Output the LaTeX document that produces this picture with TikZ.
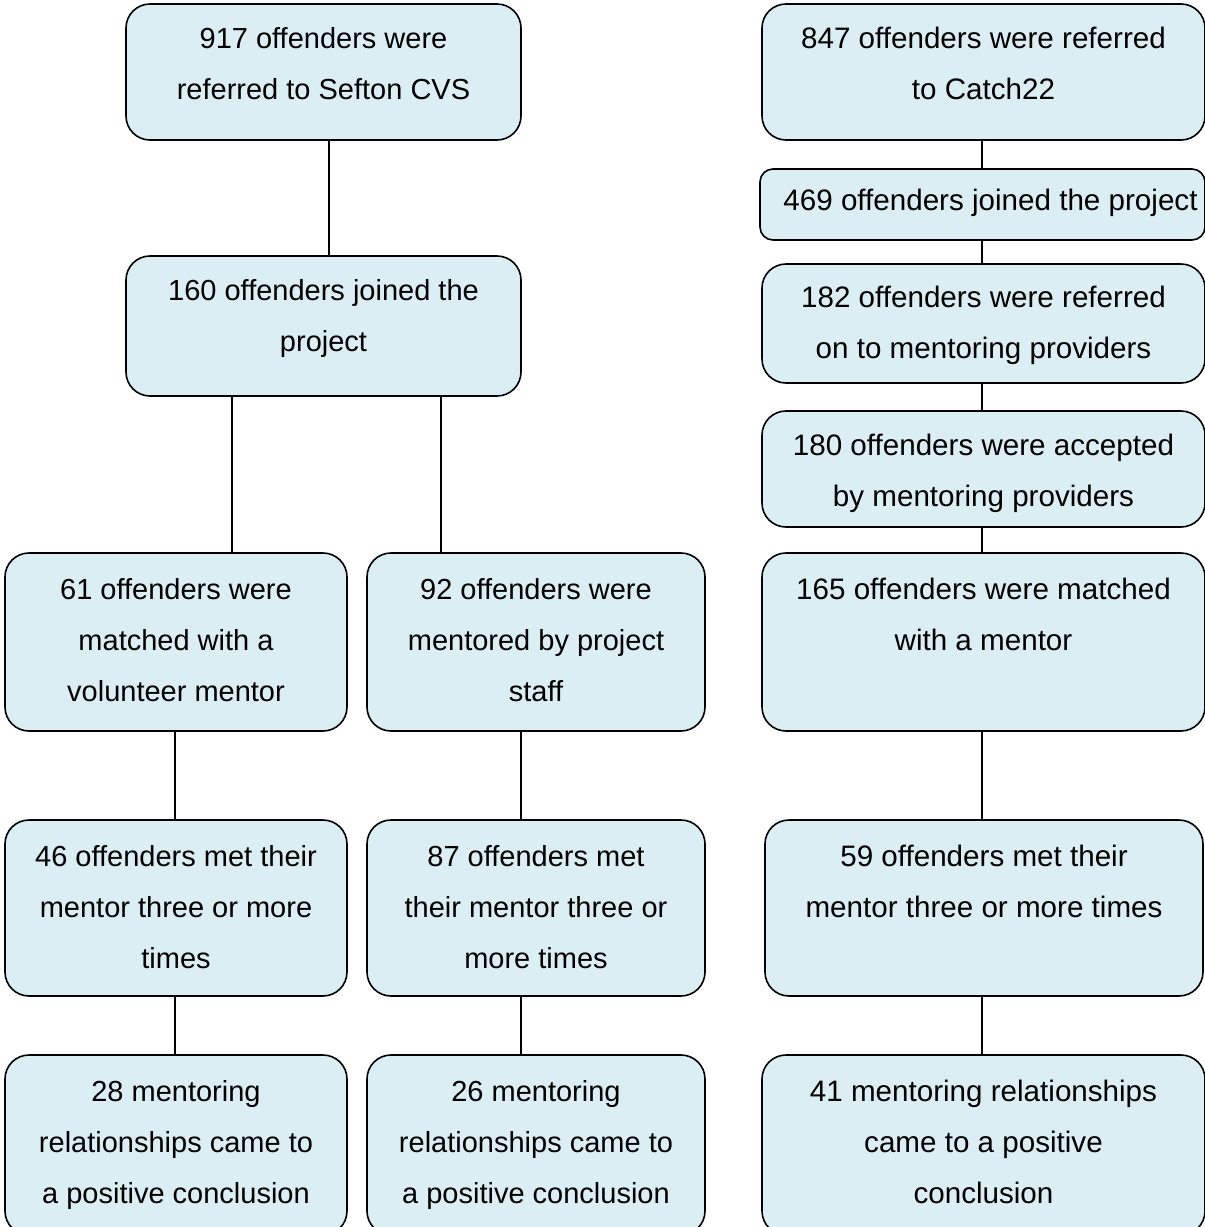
\documentclass[tikz,border=0pt]{standalone}
\usepackage{fontspec}
\setmainfont{Liberation Sans}
\definecolor{boxfill}{HTML}{DAEEF3}
\begin{document}
\begin{tikzpicture}[x=1pt,y=-1pt,
  box/.style={draw=black, line width=1.6pt, fill=boxfill, rounded corners=24pt, inner sep=0pt},
  lbl/.style={anchor=north, align=center, inner sep=0pt, text=black, font=\fontsize{29}{51}\selectfont},
  rlbl/.style={lbl, font=\fontsize{29.6}{51}\selectfont},
  link/.style={draw=black, line width=1.8pt}]
\useasboundingbox (0,0) rectangle (1205,1227);
\clip (0,0) rectangle (1205,1227);
% left part
\node[box, minimum width=395pt, minimum height=136pt] (b1) at (323.5,72) {};
\node[box, minimum width=395pt, minimum height=140pt] (b2) at (323.5,326) {};
\node[box, minimum width=342pt, minimum height=178pt] (b3) at (176,642) {};
\node[box, minimum width=338pt, minimum height=178pt] (b4) at (536,642) {};
\node[box, minimum width=342pt, minimum height=176pt] (b5) at (176,908) {};
\node[box, minimum width=338pt, minimum height=176pt] (b6) at (536,908) {};
\node[box, minimum width=342pt, minimum height=180pt] (b7) at (176,1145) {};
\node[box, minimum width=338pt, minimum height=180pt] (b8) at (536,1145) {};
% right part
\node[box, minimum width=443pt, minimum height=136pt] (r1) at (983.5,72) {};
\node[box, rounded corners=13pt, minimum width=445pt, minimum height=71pt] (r2) at (982.5,204.5) {};
\node[box, minimum width=443pt, minimum height=119pt] (r3) at (983.5,323.5) {};
\node[box, minimum width=443pt, minimum height=116pt] (r4) at (983.5,469) {};
\node[box, minimum width=443pt, minimum height=178pt] (r5) at (983.5,642) {};
\node[box, minimum width=438pt, minimum height=176pt] (r6) at (984,908) {};
\node[box, minimum width=443pt, minimum height=180pt] (r7) at (983.5,1145) {};
% labels
\node[lbl] (t1) at ([yshift=-24pt]b1.north) {917 offenders were\\referred to Sefton CVS};
\node[lbl] (t2) at ([yshift=-24pt]b2.north) {160 offenders joined the\\project};
\node[lbl] (t3) at ([yshift=-26pt]b3.north) {61 offenders were\\matched with a\\volunteer mentor};
\node[lbl] (t4) at ([yshift=-26pt]b4.north) {92 offenders were\\mentored by project\\staff};
\node[lbl] (t5) at ([yshift=-26pt]b5.north) {46 offenders met their\\mentor three or more\\times};
\node[lbl] (t6) at ([yshift=-26pt]b6.north) {87 offenders met\\their mentor three or\\more times};
\node[lbl] (t7) at ([yshift=-26pt]b7.north) {28 mentoring\\relationships came to\\a positive conclusion};
\node[lbl] (t8) at ([yshift=-26pt]b8.north) {26 mentoring\\relationships came to\\a positive conclusion};
\node[rlbl] (u1) at ([yshift=-24pt]r1.north) {847 offenders were referred\\to Catch22};
\node[rlbl] (u2) at ([yshift=-21pt,xshift=8pt]r2.north) {469 offenders joined the project};
\node[rlbl] (u3) at ([yshift=-23pt]r3.north) {182 offenders were referred\\on to mentoring providers};
\node[rlbl] (u4) at ([yshift=-24pt]r4.north) {180 offenders were accepted\\by mentoring providers};
\node[rlbl] (u5) at ([yshift=-26pt]r5.north) {165 offenders were matched\\with a mentor};
\node[rlbl] (u6) at ([yshift=-26pt]r6.north) {59 offenders met their\\mentor three or more times};
\node[rlbl] (u7) at ([yshift=-26pt]r7.north) {41 mentoring relationships\\came to a positive\\conclusion};
% connector x positions
\coordinate (xa) at (329,0);
\coordinate (xb) at (232,0);
\coordinate (xc) at (441,0);
\coordinate (xd) at (175,0);
\coordinate (xe) at (521,0);
\coordinate (xf) at (982,0);
\draw[link] (b1.south -| xa) -- (b2.north -| xa);
\draw[link] (b2.south -| xb) -- (b3.north -| xb);
\draw[link] (b2.south -| xc) -- (b4.north -| xc);
\draw[link] (b3.south -| xd) -- (b5.north -| xd);
\draw[link] (b4.south -| xe) -- (b6.north -| xe);
\draw[link] (b5.south -| xd) -- (b7.north -| xd);
\draw[link] (b6.south -| xe) -- (b8.north -| xe);
\draw[link] (r1.south -| xf) -- (r2.north -| xf);
\draw[link] (r2.south -| xf) -- (r3.north -| xf);
\draw[link] (r3.south -| xf) -- (r4.north -| xf);
\draw[link] (r4.south -| xf) -- (r5.north -| xf);
\draw[link] (r5.south -| xf) -- (r6.north -| xf);
\draw[link] (r6.south -| xf) -- (r7.north -| xf);
\end{tikzpicture}
\end{document}
